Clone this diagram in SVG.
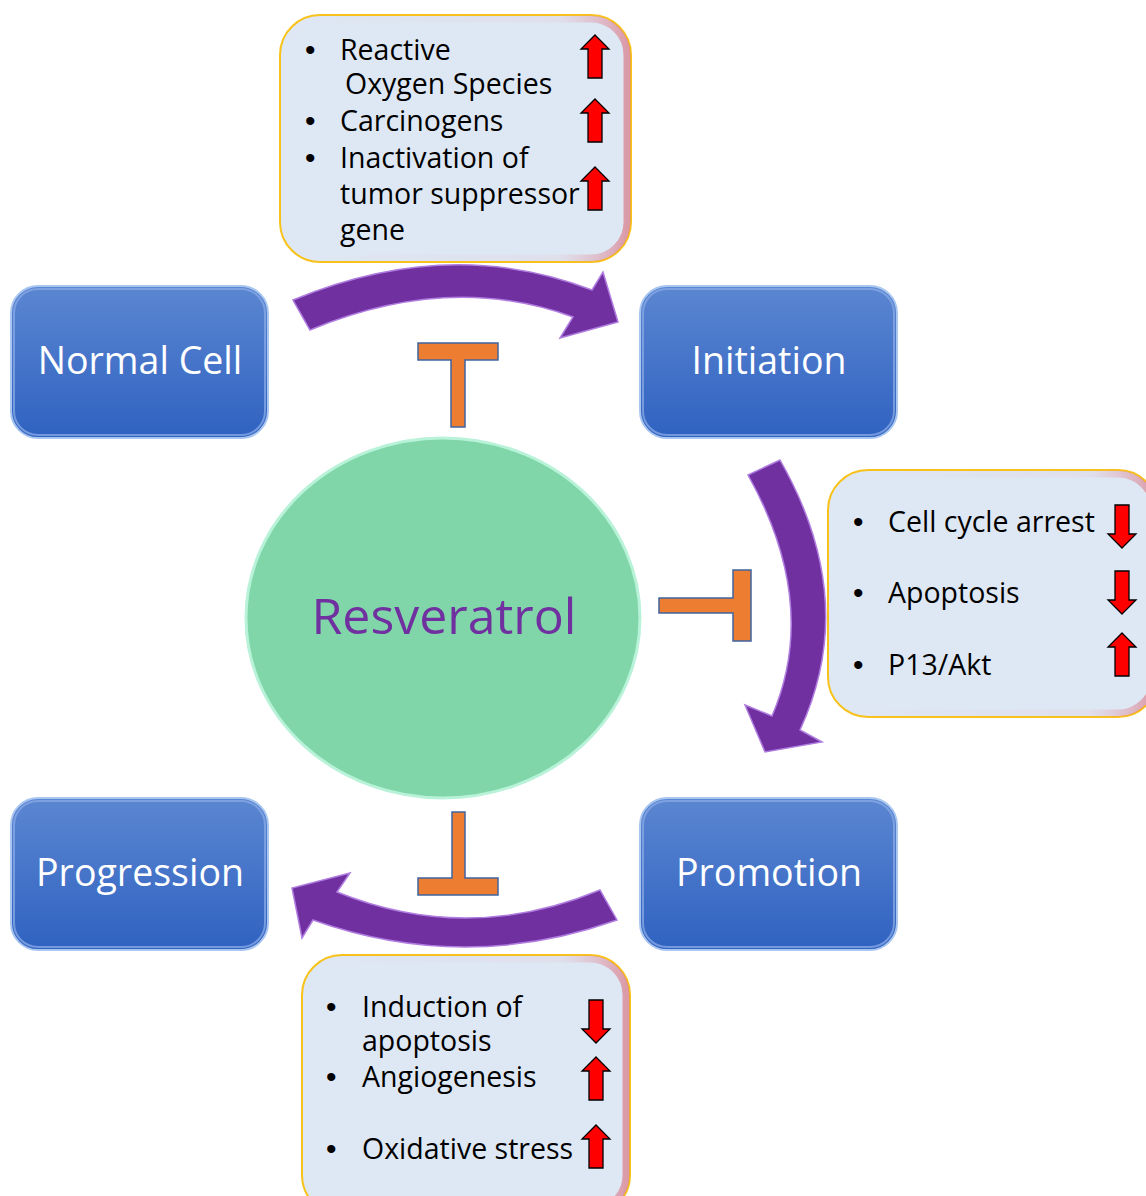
<svg xmlns="http://www.w3.org/2000/svg" width="1146" height="1196" viewBox="0 0 1146 1196">
<defs>
<linearGradient id="blueG" x1="0" y1="0" x2="0" y2="1">
<stop offset="0" stop-color="#5b86d1"/>
<stop offset="1" stop-color="#2f62c1"/>
</linearGradient>
<linearGradient id="glowG" x1="0" y1="0" x2="1" y2="0">
<stop offset="0" stop-color="#e8a0b0" stop-opacity="0"/>
<stop offset="0.8" stop-color="#e8a0b0" stop-opacity="0.12"/>
<stop offset="1" stop-color="#d9707f" stop-opacity="0.65"/>
</linearGradient>
<path id="up" d="M0,0 L14,14 L7,14 L7,43 L-7,43 L-7,14 L-14,14 Z"/>
<path id="down" d="M0,43 L14,29 L7,29 L7,0 L-7,0 L-7,29 L-14,29 Z"/>
<style>
.box{fill:url(#blueG);stroke:#a9c6f0;stroke-width:2}
.boxhi{fill:none;stroke:#86a8e4;stroke-width:2;opacity:0.8}
.lbl{font-family:"Open Sans","Liberation Sans",sans-serif;font-size:37.5px;fill:#ffffff;text-anchor:middle}
.info{fill:#dee8f4;stroke:#f8c21a;stroke-width:2}
.glow{fill:none;stroke:url(#glowG);stroke-width:7}
.txt{font-family:"Open Sans","Liberation Sans",sans-serif;font-size:28.5px;fill:#000000}
.bul{font-family:"Liberation Sans",sans-serif;font-size:30px;fill:#000000}
.arr{fill:#ff0000;stroke:#000000;stroke-width:1.3}
.purple{fill:#7030a0;stroke:#b07de0;stroke-width:1.5}
.tbar{fill:#ed7d31;stroke:#3f64a0;stroke-width:1.5}
</style>
</defs>
<rect width="1146" height="1196" fill="#ffffff"/>

<g id="connectors">
<path class="purple" d="M293,300 Q450,235 592,290 L603,272 L618,322 L560,338 L573,317 Q450,272 310,330 Z"/>
<path class="purple" d="M748,475 L780,460 Q860,600 800,730 L822,742 L765,752 L745,705 L772,716 Q820,604 748,475 Z"/>
<path class="purple" d="M600,890 Q468,945 337,892 L350,873 L292,888 L302,938 L313,920 Q465,974 617,920 Z"/>
<path class="tbar" d="M418,343 L498,343 L498,360 L465,360 L465,427 L451,427 L451,360 L418,360 Z"/>
<path class="tbar" d="M659,598 L733,598 L733,570 L751,570 L751,641 L733,641 L733,613 L659,613 Z"/>
<path class="tbar" d="M452,812 L465,812 L465,878 L498,878 L498,895 L418,895 L418,878 L452,878 Z"/>
</g>

<g id="normal-cell">
<rect class="box" x="11" y="286" width="257" height="152" rx="27"/>
<rect class="boxhi" x="14" y="289" width="251" height="146" rx="24"/>
<text class="lbl" x="140" y="374">Normal Cell</text>
</g>
<g id="initiation">
<rect class="box" x="640" y="286" width="257" height="152" rx="27"/>
<rect class="boxhi" x="643" y="289" width="251" height="146" rx="24"/>
<text class="lbl" x="769" y="374">Initiation</text>
</g>
<g id="progression">
<rect class="box" x="11" y="798" width="257" height="152" rx="27"/>
<rect class="boxhi" x="14" y="801" width="251" height="146" rx="24"/>
<text class="lbl" x="140" y="886">Progression</text>
</g>
<g id="promotion">
<rect class="box" x="640" y="798" width="257" height="152" rx="27"/>
<rect class="boxhi" x="643" y="801" width="251" height="146" rx="24"/>
<text class="lbl" x="769" y="886">Promotion</text>
</g>

<g id="resveratrol">
<ellipse cx="443" cy="618" rx="197" ry="180" fill="#81d6a9" stroke="#b8f2d8" stroke-width="3"/>
<text x="444" y="634" font-family="Open Sans, Liberation Sans, sans-serif" font-size="50" fill="#7030a0" text-anchor="middle">Resveratrol</text>
</g>

<g id="initiation-factors">
<rect class="info" x="280" y="15" width="351" height="247" rx="40"/>
<rect class="glow" x="284" y="19" width="343" height="239" rx="36"/>
<text class="bul" x="305" y="60">•</text>
<text class="txt" x="340" y="60">Reactive</text>
<text class="txt" x="345" y="94">Oxygen Species</text>
<text class="bul" x="305" y="131">•</text>
<text class="txt" x="340" y="131">Carcinogens</text>
<text class="bul" x="305" y="168">•</text>
<text class="txt" x="340" y="168">Inactivation of</text>
<text class="txt" x="340" y="204">tumor suppressor</text>
<text class="txt" x="340" y="240">gene</text>
<use href="#up" class="arr" x="595" y="35"/>
<use href="#up" class="arr" x="595" y="99"/>
<use href="#up" class="arr" x="595" y="167"/>
</g>

<g id="promotion-factors">
<rect class="info" x="828" y="470" width="330" height="247" rx="40"/>
<rect class="glow" x="832" y="474" width="322" height="239" rx="36"/>
<text class="bul" x="853" y="532">•</text>
<text class="txt" x="888" y="532">Cell cycle arrest</text>
<text class="bul" x="853" y="603">•</text>
<text class="txt" x="888" y="603">Apoptosis</text>
<text class="bul" x="853" y="675">•</text>
<text class="txt" x="888" y="675">P13/Akt</text>
<use href="#down" class="arr" x="1122" y="505"/>
<use href="#down" class="arr" x="1122" y="571"/>
<use href="#up" class="arr" x="1122" y="633"/>
</g>

<g id="progression-factors">
<rect class="info" x="302" y="955" width="328" height="260" rx="40"/>
<rect class="glow" x="306" y="959" width="320" height="252" rx="36"/>
<text class="bul" x="326" y="1017">•</text>
<text class="txt" x="362" y="1017">Induction of</text>
<text class="txt" x="362" y="1051">apoptosis</text>
<text class="bul" x="326" y="1087">•</text>
<text class="txt" x="362" y="1087">Angiogenesis</text>
<text class="bul" x="326" y="1159">•</text>
<text class="txt" x="362" y="1159">Oxidative stress</text>
<use href="#down" class="arr" x="596" y="1000"/>
<use href="#up" class="arr" x="596" y="1057"/>
<use href="#up" class="arr" x="596" y="1125"/>
</g>
</svg>
